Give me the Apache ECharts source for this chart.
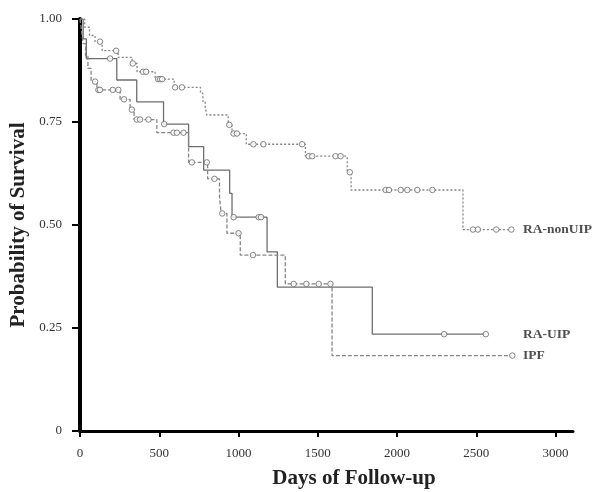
<!DOCTYPE html>
<html>
<head>
<meta charset="utf-8">
<script src="https://cdn.jsdelivr.net/npm/echarts@6/dist/echarts.min.js"></script>
<style>
  html, body { margin: 0; padding: 0; background: #fff; }
  #chart { width: 596px; height: 492px; }
</style>
</head>
<body>
<div id="chart"></div>
<script>
// Kaplan-Meier steps (days, survival after the step)
var nonUipTimes = [0, 30, 60, 95, 140, 240, 329, 360, 474, 594, 760, 775, 790, 800, 935, 959, 1049, 1422, 1686, 1710, 2416, 2721];
var nonUipSurv = [1, 0.98, 0.96, 0.945, 0.923, 0.907, 0.892, 0.872, 0.854, 0.834, 0.82, 0.80, 0.785, 0.767, 0.743, 0.722, 0.696, 0.667, 0.628, 0.585, 0.489, 0.489];
var nonUipCensor = [126, 228, 333, 398, 417, 493, 506, 518, 600, 643, 942, 969, 990, 1094, 1157, 1401, 1443, 1465, 1612, 1644, 1702, 1928, 1949, 2023, 2065, 2128, 2223, 2479, 2510, 2626, 2721];

var uipTimes = [0, 20, 40, 232, 358, 527, 685, 780, 944, 959, 1180, 1245, 1844, 2560];
var uipSurv = [1, 0.952, 0.904, 0.852, 0.799, 0.745, 0.690, 0.633, 0.577, 0.519, 0.435, 0.349, 0.235, 0.235];
var uipCensor = [190, 531, 969, 1127, 1142, 2297, 2560];

var ipfTimes = [0, 10, 20, 35, 50, 70, 107, 253, 316, 341, 485, 685, 805, 880, 890, 927, 1011, 1295, 1590, 2727];
var ipfSurv = [1, 0.97, 0.94, 0.91, 0.88, 0.848, 0.828, 0.805, 0.780, 0.756, 0.724, 0.652, 0.612, 0.569, 0.528, 0.480, 0.427, 0.357, 0.183, 0.183];
var ipfCensor = [95, 116, 126, 207, 242, 278, 327, 358, 379, 432, 590, 611, 653, 706, 800, 848, 897, 1000, 1091, 1348, 1428, 1506, 1580, 2727];

var groupNames = ['RA-nonUIP', 'RA-UIP', 'IPF'];
var labelDay = 2795;
var xTicks = [0, 500, 1000, 1500, 2000, 2500, 3000];

function pairs(t, s) {
  return t.map(function (v, i) { return [v, s[i]]; });
}
// survival value at a censor time, taken from the step curve
function atTime(t, times, surv) {
  var k = 0;
  for (var i = 0; i < times.length; i++) {
    if (times[i] <= t) k = i;
  }
  return [t, surv[k]];
}
function censorPts(c, times, surv) {
  return c.map(function (t) { return atTime(t, times, surv); });
}

var serif = 'Liberation Serif, Times New Roman, serif';
var markStyle = { color: '#fff', borderColor: '#666', borderWidth: 1 };

function curve(data, type, color) {
  return {
    type: 'line', step: 'end', data: data, symbol: 'none', silent: true,
    lineStyle: { color: color, width: 1.3, type: type }, z: 2
  };
}
function marks(data) {
  return {
    type: 'scatter', data: data, symbol: 'circle', symbolSize: 5.5,
    itemStyle: markStyle, silent: true, z: 3
  };
}

var chart = echarts.init(document.getElementById('chart'));
chart.setOption({
  animation: false,
  grid: { left: 80, right: 23, top: 19, bottom: 61 },
  xAxis: {
    type: 'value', min: 0, max: 3110, interval: 500,
    axisLine: { lineStyle: { color: '#000', width: 3 } },
    axisTick: { length: 6, lineStyle: { color: '#000', width: 2 } },
    axisLabel: {
      margin: 16, fontFamily: serif, fontSize: 13, color: '#333', showMaxLabel: false,
      formatter: function (v) { return xTicks.indexOf(v) >= 0 ? String(v) : ''; }
    },
    splitLine: { show: false }
  },
  yAxis: {
    type: 'value', min: 0, max: 1, interval: 0.25,
    axisLine: { show: true, lineStyle: { color: '#000', width: 4 } },
    axisTick: { show: true, length: 8, lineStyle: { color: '#000', width: 2 } },
    axisLabel: {
      margin: 18, fontFamily: serif, fontSize: 13, color: '#333',
      formatter: function (v) { return v === 0 ? '0' : v.toFixed(2); }
    },
    splitLine: { show: false }
  },
  graphic: [
    {
      type: 'text', x: 354, y: 479,
      style: {
        text: 'Days of Follow-up', font: 'bold 21px ' + serif, fill: '#222',
        align: 'center', verticalAlign: 'middle'
      }
    },
    {
      type: 'text', x: 19, y: 225, rotation: Math.PI / 2,
      style: {
        text: 'Probability of Survival', font: 'bold 21px ' + serif, fill: '#222',
        align: 'center', verticalAlign: 'middle'
      }
    }
  ],
  series: [
    curve(pairs(nonUipTimes, nonUipSurv), [2, 2], '#858585'),
    curve(pairs(uipTimes, uipSurv), 'solid', '#6e6e6e'),
    curve(pairs(ipfTimes, ipfSurv), [4, 2], '#858585'),
    marks(censorPts(nonUipCensor, nonUipTimes, nonUipSurv)),
    marks(censorPts(uipCensor, uipTimes, uipSurv)),
    marks(censorPts(ipfCensor, ipfTimes, ipfSurv)),
    {
      type: 'scatter', symbolSize: 0, silent: true,
      data: [
        [labelDay, nonUipSurv[nonUipSurv.length - 1], groupNames[0]],
        [labelDay, uipSurv[uipSurv.length - 1], groupNames[1]],
        [labelDay, ipfSurv[ipfSurv.length - 1], groupNames[2]]
      ],
      label: {
        show: true, position: 'right', distance: 0,
        fontFamily: serif, fontWeight: 'bold', fontSize: 13.5, color: '#222',
        formatter: function (p) { return p.value[2]; }
      }
    }
  ]
});
</script>
</body>
</html>
